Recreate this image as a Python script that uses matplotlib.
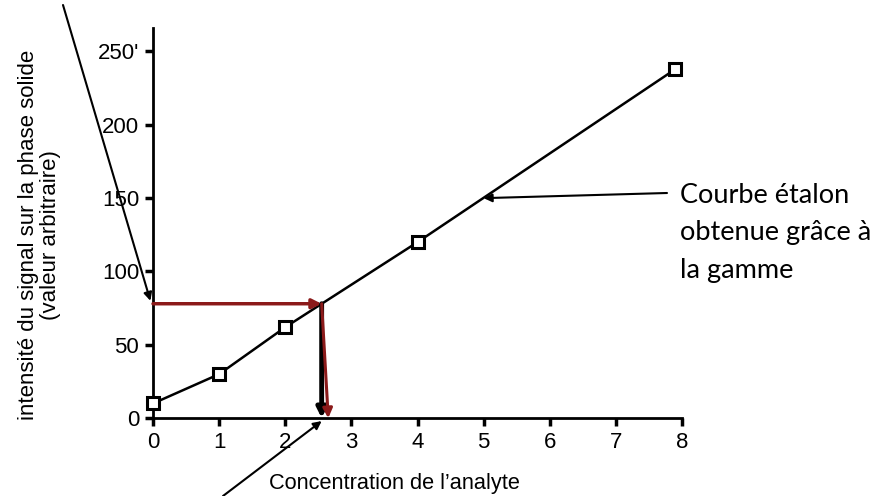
import matplotlib.pyplot as plt

# calibration points (concentration, signal)
concentration = [0, 1, 2, 4, 7.9]
signal = [10, 30, 62, 120, 238]

x_ticks = [0, 1, 2, 3, 4, 5, 6, 7, 8]
y_ticks = [0, 50, 100, 150, 200, 250]
y_tick_labels = ["0", "50", "100", "150", "200", "250'"]

# read-off of the unknown sample
sample_signal = 78
sample_conc = 2.55
sample_conc_red = 2.65

# point of the curve pointed at by the label
label_point = (5, 150)

DARK_RED = "#8b1a1a"

plt.rcParams["font.family"] = ["Liberation Sans", "DejaVu Sans"]

fig = plt.figure(figsize=(8.81, 4.96), dpi=100)
ax = fig.add_axes([0.1737, 0.157, 0.6005, 0.7865])

ax.plot(concentration, signal, color="black", lw=1.8, marker="s", ms=8,
        mfc="white", mec="black", mew=2.2, clip_on=False, zorder=3)

ax.set_xlim(0, 8)
ax.set_ylim(0, 266)
ax.set_xticks(x_ticks)
ax.set_yticks(y_ticks)
ax.set_yticklabels(y_tick_labels)
ax.tick_params(direction="out", length=6, width=2.5, labelsize=16, pad=4)

for side in ("top", "right"):
    ax.spines[side].set_visible(False)
for side in ("left", "bottom"):
    ax.spines[side].set_linewidth(2)

ax.set_xlabel("Concentration de l\u2019analyte", fontsize=15.7, va="center")
ax.xaxis.set_label_coords(0.456, -0.167)
ax.set_ylabel("intensité du signal sur la phase solide\n(valeur arbitraire)",
              fontsize=16, linespacing=1.05, va="center")
ax.yaxis.set_label_coords(-0.214, 0.47)

# read-off arrows
ax.annotate("", xy=(sample_conc, sample_signal), xytext=(0, sample_signal),
            arrowprops=dict(arrowstyle="-|>", color=DARK_RED, lw=2.5,
                            mutation_scale=14, shrinkA=0, shrinkB=0),
            annotation_clip=False)
ax.annotate("", xy=(sample_conc, 0), xytext=(sample_conc, sample_signal),
            arrowprops=dict(arrowstyle="-|>", color="black", lw=3.5,
                            mutation_scale=14, shrinkA=0, shrinkB=0),
            annotation_clip=False)
ax.annotate("", xy=(sample_conc_red, 0), xytext=(sample_conc, sample_signal),
            arrowprops=dict(arrowstyle="-|>", color=DARK_RED, lw=2.2,
                            mutation_scale=14, shrinkA=0, shrinkB=0),
            annotation_clip=False)

# pointer arrows from outside the axes
ax.annotate("", xy=(-0.04, sample_signal + 2), xycoords="data",
            xytext=(63, 491), textcoords="figure pixels",
            arrowprops=dict(arrowstyle="-|>", color="black", lw=1.5,
                            mutation_scale=12, shrinkA=0, shrinkB=0),
            annotation_clip=False)
ax.annotate("", xy=(sample_conc, -2), xycoords="data",
            xytext=(223, 0), textcoords="figure pixels",
            arrowprops=dict(arrowstyle="-|>", color="black", lw=1.5,
                            mutation_scale=12, shrinkA=0, shrinkB=0),
            annotation_clip=False)

ax.annotate("", xy=label_point, xycoords="data",
            xytext=(667, 303), textcoords="figure pixels",
            arrowprops=dict(arrowstyle="-|>", color="black", lw=1.5,
                            mutation_scale=12, shrinkA=0, shrinkB=0),
            annotation_clip=False)
fig.text(680, 313, "Courbe étalon\nobtenue grâce à\nla gamme",
         transform=None, fontsize=19.5, family=["Lato", "DejaVu Sans"],
         va="top", ha="left", linespacing=1.62)

fig.savefig("out.png", dpi=100)
